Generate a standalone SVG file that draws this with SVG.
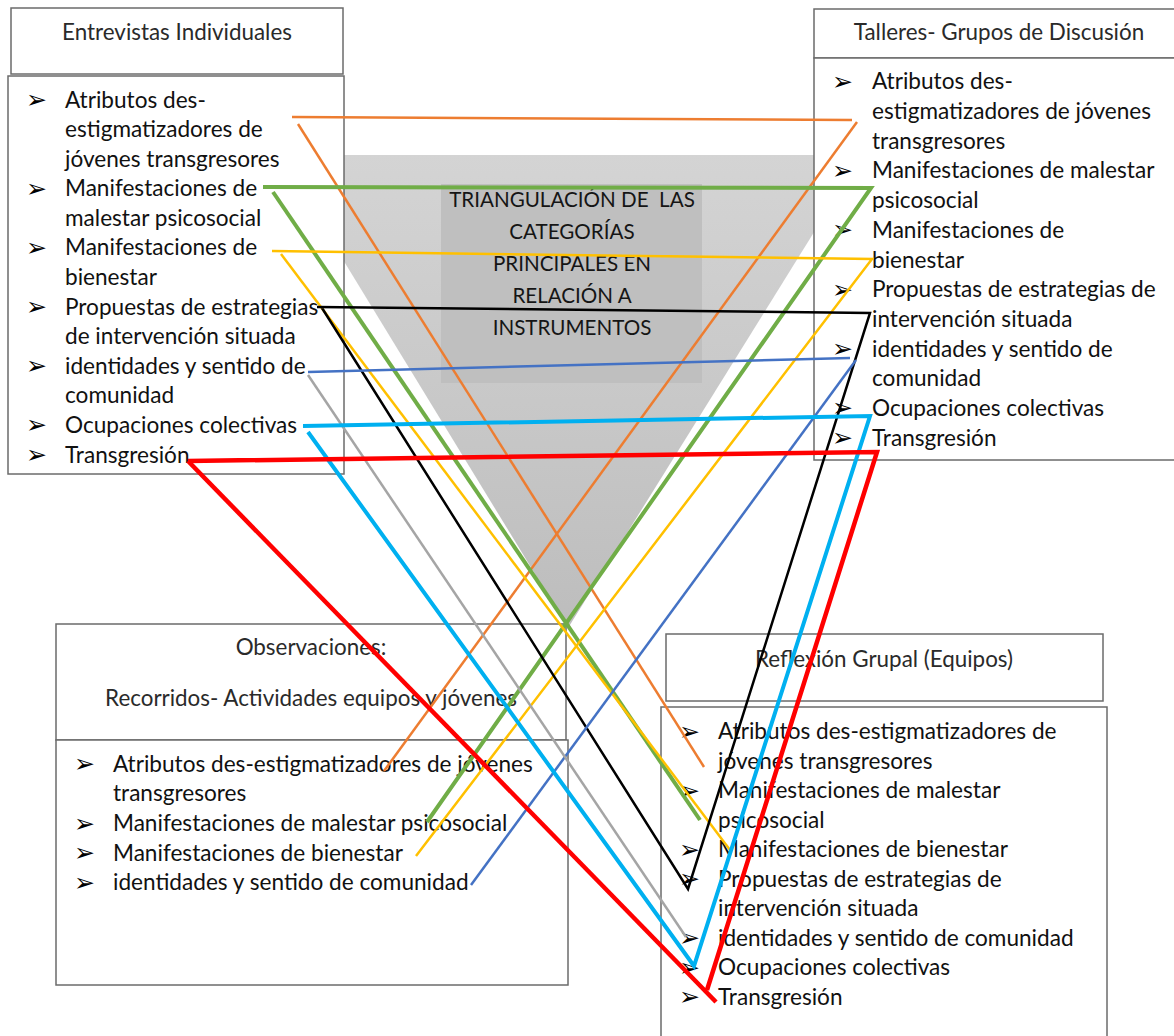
<svg xmlns="http://www.w3.org/2000/svg" width="1174" height="1036" viewBox="0 0 1174 1036">
<defs>
<linearGradient id="tg" x1="0" y1="0" x2="0" y2="1">
<stop offset="0" stop-color="#d4d4d4"/>
<stop offset="1" stop-color="#bdbdbd"/>
</linearGradient>
<style>
.box{fill:#fff;stroke:#6b6b6b;stroke-width:1.5}
.t{font-family:Lato,"Liberation Sans",sans-serif;font-size:22.6px;fill:#111}
.h{font-family:Lato,"Liberation Sans",sans-serif;font-size:22.4px;fill:#2a2a2a}
.hc{text-anchor:middle}
.b{font-family:"DejaVu Sans",sans-serif;font-size:25px;font-weight:bold;fill:#000}
.tri{font-family:Lato,"Liberation Sans",sans-serif;font-size:20.6px;fill:#151515;text-anchor:middle}
.c{fill:none;stroke-linecap:butt;stroke-linejoin:miter}
</style>
</defs>
<rect width="1174" height="1036" fill="#fff"/>

<g id="triangulo">
<polygon points="279,155 862,155 568,628" fill="url(#tg)"/>
<rect x="441" y="184" width="261" height="199" fill="#bfbfbf"/>
<text class="tri" x="572" y="207" xml:space="preserve">TRIANGULACIÓN DE  LAS</text>
<text class="tri" x="572" y="239">CATEGORÍAS</text>
<text class="tri" x="572" y="271">PRINCIPALES EN</text>
<text class="tri" x="572" y="303">RELACIÓN A</text>
<text class="tri" x="572" y="335">INSTRUMENTOS</text>
</g>

<g id="entrevistas">
<rect class="box" x="11" y="8" width="332" height="66"/>
<rect class="box" x="8" y="76" width="336" height="398"/>
<text class="h hc" x="177" y="40">Entrevistas Individuales</text>
<text class="b" x="26" y="108">➢</text>
<text class="t" x="65" y="107.5">Atributos des-</text>
<text class="t" x="65" y="137">estigmatizadores de</text>
<text class="t" x="65" y="166.6">jóvenes transgresores</text>
<text class="b" x="26" y="197">➢</text>
<text class="t" x="65" y="196.2">Manifestaciones de</text>
<text class="t" x="65" y="225.8">malestar psicosocial</text>
<text class="b" x="26" y="256">➢</text>
<text class="t" x="65" y="255.4">Manifestaciones de</text>
<text class="t" x="65" y="285">bienestar</text>
<text class="b" x="26" y="315">➢</text>
<text class="t" x="65" y="314.6">Propuestas de estrategias</text>
<text class="t" x="65" y="344.2">de intervención situada</text>
<text class="b" x="26" y="374">➢</text>
<text class="t" x="65" y="373.8">identidades y sentido de</text>
<text class="t" x="65" y="403.4">comunidad</text>
<text class="b" x="26" y="433">➢</text>
<text class="t" x="65" y="433">Ocupaciones colectivas</text>
<text class="b" x="26" y="463">➢</text>
<text class="t" x="65" y="462.6">Transgresión</text>
</g>

<g id="talleres">
<rect class="box" x="814" y="9" width="370" height="49"/>
<rect class="box" x="814" y="58" width="370" height="402"/>
<text class="h hc" x="999" y="40">Talleres- Grupos de Discusión</text>
<text class="b" x="832" y="90">➢</text>
<text class="t" x="872" y="89.4">Atributos des-</text>
<text class="t" x="872" y="119">estigmatizadores de jóvenes</text>
<text class="t" x="872" y="148.7">transgresores</text>
<text class="b" x="832" y="179">➢</text>
<text class="t" x="872" y="178.4">Manifestaciones de malestar</text>
<text class="t" x="872" y="208">psicosocial</text>
<text class="b" x="832" y="238">➢</text>
<text class="t" x="872" y="237.8">Manifestaciones de</text>
<text class="t" x="872" y="267.5">bienestar</text>
<text class="b" x="832" y="298">➢</text>
<text class="t" x="872" y="297.2">Propuestas de estrategias de</text>
<text class="t" x="872" y="326.9">intervención situada</text>
<text class="b" x="832" y="357">➢</text>
<text class="t" x="872" y="356.6">identidades y sentido de</text>
<text class="t" x="872" y="386.3">comunidad</text>
<text class="b" x="832" y="416">➢</text>
<text class="t" x="872" y="416">Ocupaciones colectivas</text>
<text class="b" x="832" y="446">➢</text>
<text class="t" x="872" y="445.7">Transgresión</text>
</g>

<g id="observaciones">
<rect class="box" x="56" y="624" width="510" height="116"/>
<rect class="box" x="56" y="740" width="512" height="245"/>
<text class="h hc" x="311" y="655">Observaciones:</text>
<text class="h hc" x="311" y="706">Recorridos- Actividades equipos y jóvenes</text>
<text class="b" x="74" y="772">➢</text>
<text class="t" x="113" y="771.5">Atributos des-estigmatizadores de jóvenes</text>
<text class="t" x="113" y="801.3">transgresores</text>
<text class="b" x="74" y="832">➢</text>
<text class="t" x="113" y="831">Manifestaciones de malestar psicosocial</text>
<text class="b" x="74" y="861">➢</text>
<text class="t" x="113" y="860.5">Manifestaciones de bienestar</text>
<text class="b" x="74" y="891">➢</text>
<text class="t" x="113" y="890.3">identidades y sentido de comunidad</text>
</g>

<g id="reflexion">
<rect class="box" x="666" y="634" width="437" height="67"/>
<rect class="box" x="661" y="707" width="446" height="340"/>
<text class="h hc" x="884" y="667">Reflexión Grupal (Equipos)</text>
<text class="b" x="679" y="740">➢</text>
<text class="t" x="718" y="739.3">Atributos des-estigmatizadores de</text>
<text class="t" x="718" y="768.8">jóvenes transgresores</text>
<text class="b" x="679" y="799">➢</text>
<text class="t" x="718" y="798.3">Manifestaciones de malestar</text>
<text class="t" x="718" y="827.8">psicosocial</text>
<text class="b" x="679" y="858">➢</text>
<text class="t" x="718" y="857.3">Manifestaciones de bienestar</text>
<text class="b" x="679" y="887">➢</text>
<text class="t" x="718" y="886.8">Propuestas de estrategias de</text>
<text class="t" x="718" y="916.3">intervención situada</text>
<text class="b" x="679" y="946">➢</text>
<text class="t" x="718" y="945.8">identidades y sentido de comunidad</text>
<text class="b" x="679" y="976">➢</text>
<text class="t" x="718" y="975.3">Ocupaciones colectivas</text>
<text class="b" x="679" y="1005">➢</text>
<text class="t" x="718" y="1004.8">Transgresión</text>
</g>

<g id="conectores" class="c">
<g stroke="#ED7D31" stroke-width="2.5">
<line x1="292" y1="117" x2="852" y2="120"/>
<line x1="857" y1="122" x2="384" y2="771"/>
<line x1="298" y1="124" x2="704" y2="767"/>
</g>
<g stroke="#70AD47" stroke-width="4">
<polyline points="263,187 871,188 427,822"/>
<line x1="273" y1="192" x2="700" y2="820"/>
</g>
<g stroke="#FFC000" stroke-width="2.5">
<polyline points="272,251 872,259 416,856"/>
<line x1="281" y1="254" x2="730" y2="850"/>
</g>
<g stroke="#000000" stroke-width="2.5">
<polyline points="317,307 870,313 688,889 322,308"/>
</g>
<g stroke="#4472C4" stroke-width="2.5">
<line x1="308" y1="372" x2="850" y2="358"/>
<line x1="856" y1="360" x2="471" y2="885"/>
</g>
<g stroke="#A5A5A5" stroke-width="2.5">
<line x1="308" y1="375" x2="686" y2="937"/>
</g>
<g stroke="#00B0F0" stroke-width="4">
<polyline points="303,426 870,416 694,966 308,432"/>
</g>
<g stroke="#FF0000" stroke-width="4.5">
<polyline points="188,461 877,452 707,990"/>
<line x1="188" y1="461" x2="716" y2="1002"/>
</g>
</g>
</svg>
